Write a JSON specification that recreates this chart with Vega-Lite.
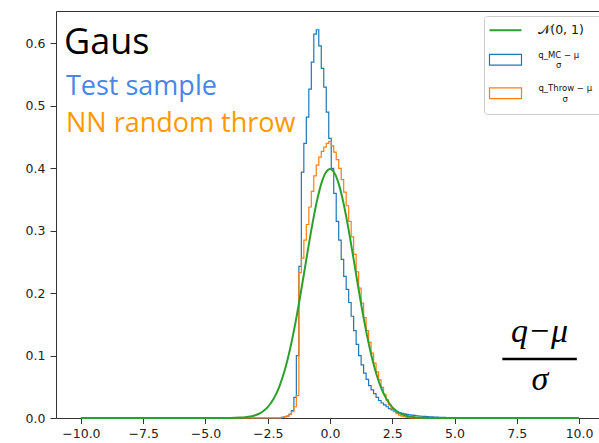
{
  "$schema": "https://vega.github.io/schema/vega-lite/v6.json",
  "width": 543,
  "height": 407,
  "autosize": {"type": "none"},
  "padding": {"left": 56, "top": 11, "right": 0, "bottom": 25},
  "background": "white",
  "config": {
    "view": {"stroke": null},
    "axis": {"domainColor": "#333", "tickColor": "#333", "labelColor": "#222", "labelFont": "DejaVu Sans", "labelFontSize": 12.5, "tickSize": 5.5, "labelPadding": 4, "grid": false},
    "legend": {"orient": "none", "legendX": 428, "legendY": 5, "padding": 10, "strokeColor": "#cccccc", "fillColor": "white", "cornerRadius": 3, "symbolSize": 1024, "symbolOffset": 7.25, "labelFont": "DejaVu Sans", "labelFontSize": 9, "labelColor": "#111", "labelOffset": 28.5, "rowPadding": 13.5, "title": null}
  },
  "datasets": {
    "mc": [
      {"x": -10, "d": 0}, {"x": -1.95, "d": 0.001}, {"x": -1.85, "d": 0.002}, {"x": -1.75, "d": 0.003}, {"x": -1.65, "d": 0.006},
      {"x": -1.55, "d": 0.012}, {"x": -1.45, "d": 0.033}, {"x": -1.35, "d": 0.1}, {"x": -1.25, "d": 0.243}, {"x": -1.15, "d": 0.394},
      {"x": -1.05, "d": 0.44}, {"x": -0.95, "d": 0.482}, {"x": -0.85, "d": 0.527}, {"x": -0.75, "d": 0.57}, {"x": -0.65, "d": 0.615},
      {"x": -0.55, "d": 0.622}, {"x": -0.45, "d": 0.596}, {"x": -0.35, "d": 0.56}, {"x": -0.25, "d": 0.53}, {"x": -0.15, "d": 0.49},
      {"x": -0.05, "d": 0.448}, {"x": 0.05, "d": 0.4}, {"x": 0.15, "d": 0.36}, {"x": 0.25, "d": 0.315}, {"x": 0.35, "d": 0.285},
      {"x": 0.45, "d": 0.254}, {"x": 0.55, "d": 0.227}, {"x": 0.65, "d": 0.206}, {"x": 0.75, "d": 0.185}, {"x": 0.85, "d": 0.163},
      {"x": 0.95, "d": 0.14}, {"x": 1.05, "d": 0.118}, {"x": 1.15, "d": 0.1}, {"x": 1.25, "d": 0.085}, {"x": 1.35, "d": 0.072},
      {"x": 1.45, "d": 0.062}, {"x": 1.55, "d": 0.052}, {"x": 1.65, "d": 0.045}, {"x": 1.75, "d": 0.039}, {"x": 1.85, "d": 0.033},
      {"x": 1.95, "d": 0.028}, {"x": 2.05, "d": 0.024}, {"x": 2.15, "d": 0.021}, {"x": 2.25, "d": 0.018}, {"x": 2.35, "d": 0.015},
      {"x": 2.45, "d": 0.013}, {"x": 2.55, "d": 0.011}, {"x": 2.65, "d": 0.0095}, {"x": 2.75, "d": 0.0085}, {"x": 2.85, "d": 0.0075},
      {"x": 2.95, "d": 0.0066}, {"x": 3.05, "d": 0.0058}, {"x": 3.15, "d": 0.0052}, {"x": 3.25, "d": 0.0046}, {"x": 3.35, "d": 0.0041},
      {"x": 3.45, "d": 0.0036}, {"x": 3.55, "d": 0.0032}, {"x": 3.65, "d": 0.0028}, {"x": 3.75, "d": 0.0025}, {"x": 3.85, "d": 0.0022},
      {"x": 3.95, "d": 0.002}, {"x": 4.05, "d": 0.0018}, {"x": 4.15, "d": 0.0016}, {"x": 4.25, "d": 0.0014}, {"x": 4.35, "d": 0.0012},
      {"x": 4.45, "d": 0.001}, {"x": 4.55, "d": 0.0009}, {"x": 4.65, "d": 0.0008}, {"x": 4.75, "d": 0.0007}, {"x": 4.85, "d": 0.0006},
      {"x": 4.95, "d": 0.0005}, {"x": 5.05, "d": 0.0004}, {"x": 5.15, "d": 0.0003}, {"x": 5.25, "d": 0.0003}, {"x": 5.35, "d": 0.0002},
      {"x": 5.45, "d": 0.0002}, {"x": 5.55, "d": 0}, {"x": 10, "d": 0}
    ],
    "throw": [
      {"x": -10, "d": 0}, {"x": -1.95, "d": 0.001}, {"x": -1.85, "d": 0.002}, {"x": -1.75, "d": 0.003}, {"x": -1.65, "d": 0.006},
      {"x": -1.55, "d": 0.01}, {"x": -1.45, "d": 0.018}, {"x": -1.35, "d": 0.036}, {"x": -1.25, "d": 0.233}, {"x": -1.15, "d": 0.256},
      {"x": -1.05, "d": 0.285}, {"x": -0.95, "d": 0.31}, {"x": -0.85, "d": 0.338}, {"x": -0.75, "d": 0.363}, {"x": -0.65, "d": 0.388},
      {"x": -0.55, "d": 0.405}, {"x": -0.45, "d": 0.418}, {"x": -0.35, "d": 0.427}, {"x": -0.25, "d": 0.434}, {"x": -0.15, "d": 0.44},
      {"x": -0.05, "d": 0.443}, {"x": 0.05, "d": 0.436}, {"x": 0.15, "d": 0.426}, {"x": 0.25, "d": 0.414}, {"x": 0.35, "d": 0.4},
      {"x": 0.45, "d": 0.382}, {"x": 0.55, "d": 0.362}, {"x": 0.65, "d": 0.34}, {"x": 0.75, "d": 0.315}, {"x": 0.85, "d": 0.29},
      {"x": 0.95, "d": 0.262}, {"x": 1.05, "d": 0.234}, {"x": 1.15, "d": 0.208}, {"x": 1.25, "d": 0.184}, {"x": 1.35, "d": 0.161},
      {"x": 1.45, "d": 0.14}, {"x": 1.55, "d": 0.121}, {"x": 1.65, "d": 0.104}, {"x": 1.75, "d": 0.088}, {"x": 1.85, "d": 0.074},
      {"x": 1.95, "d": 0.061}, {"x": 2.05, "d": 0.049}, {"x": 2.15, "d": 0.038}, {"x": 2.25, "d": 0.029}, {"x": 2.35, "d": 0.021},
      {"x": 2.45, "d": 0.015}, {"x": 2.55, "d": 0.01}, {"x": 2.65, "d": 0.007}, {"x": 2.75, "d": 0.0045}, {"x": 2.85, "d": 0.003},
      {"x": 2.95, "d": 0.002}, {"x": 3.05, "d": 0.001}, {"x": 3.15, "d": 0.0005}, {"x": 3.25, "d": 0}, {"x": 10, "d": 0}
    ],
    "gauss": [
      {"x": -10, "d": 0}, {"x": -8, "d": 0}, {"x": -6, "d": 0}, {"x": -5, "d": 0.0000015}, {"x": -4.5, "d": 0.000016},
      {"x": -4, "d": 0.00013}, {"x": -3.8, "d": 0.00029}, {"x": -3.6, "d": 0.00061}, {"x": -3.4, "d": 0.00123}, {"x": -3.2, "d": 0.00238},
      {"x": -3, "d": 0.00443}, {"x": -2.9, "d": 0.00595}, {"x": -2.8, "d": 0.00792}, {"x": -2.7, "d": 0.01042}, {"x": -2.6, "d": 0.01358},
      {"x": -2.5, "d": 0.01753}, {"x": -2.4, "d": 0.02239}, {"x": -2.3, "d": 0.02833}, {"x": -2.2, "d": 0.03547}, {"x": -2.1, "d": 0.04398},
      {"x": -2, "d": 0.05399}, {"x": -1.9, "d": 0.06562}, {"x": -1.8, "d": 0.07895}, {"x": -1.7, "d": 0.09405}, {"x": -1.6, "d": 0.11092},
      {"x": -1.5, "d": 0.12952}, {"x": -1.4, "d": 0.14973}, {"x": -1.3, "d": 0.17137}, {"x": -1.2, "d": 0.19419}, {"x": -1.1, "d": 0.21785},
      {"x": -1, "d": 0.24197}, {"x": -0.9, "d": 0.26609}, {"x": -0.8, "d": 0.28969}, {"x": -0.7, "d": 0.31225}, {"x": -0.6, "d": 0.33322},
      {"x": -0.5, "d": 0.35207}, {"x": -0.4, "d": 0.36827}, {"x": -0.3, "d": 0.38139}, {"x": -0.2, "d": 0.39104}, {"x": -0.1, "d": 0.39695},
      {"x": 0, "d": 0.39894},
      {"x": 0.1, "d": 0.39695}, {"x": 0.2, "d": 0.39104}, {"x": 0.3, "d": 0.38139}, {"x": 0.4, "d": 0.36827}, {"x": 0.5, "d": 0.35207},
      {"x": 0.6, "d": 0.33322}, {"x": 0.7, "d": 0.31225}, {"x": 0.8, "d": 0.28969}, {"x": 0.9, "d": 0.26609}, {"x": 1, "d": 0.24197},
      {"x": 1.1, "d": 0.21785}, {"x": 1.2, "d": 0.19419}, {"x": 1.3, "d": 0.17137}, {"x": 1.4, "d": 0.14973}, {"x": 1.5, "d": 0.12952},
      {"x": 1.6, "d": 0.11092}, {"x": 1.7, "d": 0.09405}, {"x": 1.8, "d": 0.07895}, {"x": 1.9, "d": 0.06562}, {"x": 2, "d": 0.05399},
      {"x": 2.1, "d": 0.04398}, {"x": 2.2, "d": 0.03547}, {"x": 2.3, "d": 0.02833}, {"x": 2.4, "d": 0.02239}, {"x": 2.5, "d": 0.01753},
      {"x": 2.6, "d": 0.01358}, {"x": 2.7, "d": 0.01042}, {"x": 2.8, "d": 0.00792}, {"x": 2.9, "d": 0.00595}, {"x": 3, "d": 0.00443},
      {"x": 3.2, "d": 0.00238}, {"x": 3.4, "d": 0.00123}, {"x": 3.6, "d": 0.00061}, {"x": 3.8, "d": 0.00029}, {"x": 4, "d": 0.00013},
      {"x": 4.5, "d": 0.000016}, {"x": 5, "d": 0.0000015}, {"x": 6, "d": 0}, {"x": 8, "d": 0}, {"x": 10, "d": 0}
    ]
  },
  "resolve": {"axis": {"x": "independent"}},
  "layer": [
    {
      "data": {"name": "mc"},
      "mark": {"type": "line", "interpolate": "step-after", "strokeWidth": 1.2},
      "encoding": {
        "x": {"field": "x", "type": "quantitative", "scale": {"domain": [-11, 10.8], "nice": false, "zero": false},
              "axis": {"orient": "bottom", "values": [-10, -7.5, -5, -2.5, 0, 2.5, 5, 7.5, 10], "format": ".1f", "title": null}},
        "y": {"field": "d", "type": "quantitative", "scale": {"domain": [0, 0.652], "nice": false},
              "axis": {"values": [0, 0.1, 0.2, 0.3, 0.4, 0.5, 0.6], "format": ".1f", "title": null, "labelPadding": 5, "tickSize": 6}},
        "color": {"datum": "MC", "type": "nominal",
                  "scale": {"domain": ["N", "MC", "Throw"], "range": ["#2ca02c", "#1f77b4", "#ff7f0e"]},
                  "legend": {
                    "labelExpr": "datum.value === 'N' ? '𝒩(0, 1)' : datum.value === 'MC' ? ['q_MC − μ', 'σ'] : ['q_Throw − μ', 'σ']",
                    "encoding": {
                      "symbols": {
                        "shape": {"value": {"expr": "datum.value === 'N' ? 'stroke' : 'M-1,-0.34H1V0.34H-1Z'"}},
                        "strokeWidth": {"value": {"expr": "datum.value === 'N' ? 2 : 1.2"}}
                      },
                      "labels": {
                        "fontSize": {"value": {"expr": "datum.value === 'N' ? 12.5 : 8.5"}},
                        "align": {"value": {"expr": "datum.value === 'N' ? 'left' : 'center'"}},
                        "dx": {"value": {"expr": "datum.value === 'N' ? 0 : datum.value === 'MC' ? 20.5 : 27"}},
                        "dy": {"value": {"expr": "datum.value === 'N' ? 0 : -5"}}
                      }
                    }
                  }}
      }
    },
    {
      "data": {"name": "throw"},
      "mark": {"type": "line", "interpolate": "step-after", "strokeWidth": 1.2},
      "encoding": {
        "x": {"field": "x", "type": "quantitative", "axis": null},
        "y": {"field": "d", "type": "quantitative"},
        "color": {"datum": "Throw", "type": "nominal"}
      }
    },
    {
      "data": {"name": "gauss"},
      "mark": {"type": "line", "interpolate": "monotone", "strokeWidth": 2},
      "encoding": {
        "x": {"field": "x", "type": "quantitative", "axis": null},
        "y": {"field": "d", "type": "quantitative"},
        "color": {"datum": "N", "type": "nominal"}
      }
    },
    {
      "data": {"values": [{"label": "Gaus"}]},
      "mark": {"type": "text", "font": "Open Sans", "fontSize": 36, "color": "#000000", "align": "left", "baseline": "alphabetic"},
      "encoding": {
        "x": {"datum": -10.68, "type": "quantitative", "axis": null},
        "y": {"datum": 0.583, "type": "quantitative"},
        "text": {"field": "label"}
      }
    },
    {
      "data": {"values": [{"label": "Test sample"}]},
      "mark": {"type": "text", "font": "Open Sans", "fontSize": 27, "color": "#4a86e8", "align": "left", "baseline": "alphabetic"},
      "encoding": {
        "x": {"datum": -10.6, "type": "quantitative", "axis": null},
        "y": {"datum": 0.517, "type": "quantitative"},
        "text": {"field": "label"}
      }
    },
    {
      "data": {"values": [{"label": "NN random throw"}]},
      "mark": {"type": "text", "font": "Open Sans", "fontSize": 27, "color": "#ff9900", "align": "left", "baseline": "alphabetic"},
      "encoding": {
        "x": {"datum": -10.6, "type": "quantitative", "axis": null},
        "y": {"datum": 0.4585, "type": "quantitative"},
        "text": {"field": "label"}
      }
    },
    {
      "data": {"values": [{"label": "q−μ"}]},
      "mark": {"type": "text", "font": "Liberation Serif", "fontStyle": "italic", "fontSize": 34, "color": "#000000", "align": "center", "baseline": "alphabetic"},
      "encoding": {
        "x": {"datum": 8.41, "type": "quantitative", "axis": null},
        "y": {"datum": 0.122, "type": "quantitative"},
        "text": {"field": "label"}
      }
    },
    {
      "data": {"values": [{"label": "σ"}]},
      "mark": {"type": "text", "font": "Liberation Serif", "fontStyle": "italic", "fontSize": 34, "color": "#000000", "align": "center", "baseline": "alphabetic"},
      "encoding": {
        "x": {"datum": 8.43, "type": "quantitative", "axis": null},
        "y": {"datum": 0.0448, "type": "quantitative"},
        "text": {"field": "label"}
      }
    },
    {
      "data": {"values": [{"label": "bar"}]},
      "mark": {"type": "rule", "color": "#000000", "strokeWidth": 2.3},
      "encoding": {
        "x": {"datum": 6.92, "type": "quantitative",
              "axis": {"orient": "top", "labels": false, "ticks": false, "title": null, "domainColor": "#333"}},
        "x2": {"datum": 9.91},
        "y": {"datum": 0.0945, "type": "quantitative"}
      }
    }
  ]
}
